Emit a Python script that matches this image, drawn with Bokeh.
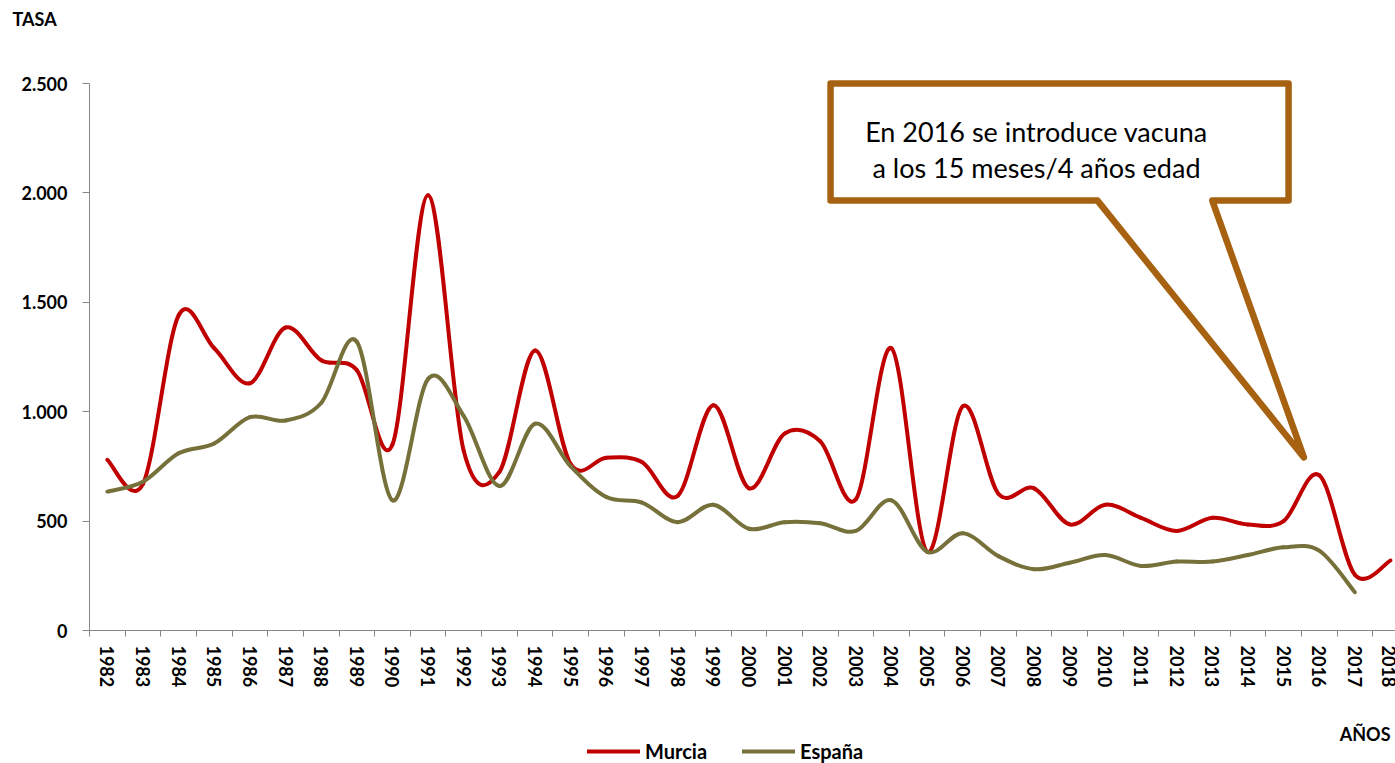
import numpy as np
from bokeh.plotting import figure
from bokeh.layouts import column
from bokeh.models import (ColumnDataSource, FixedTicker, Label, Legend, LegendItem,
                          PolyAnnotation, Range1d, Title)
from bokeh.embed import file_html
from bokeh.resources import INLINE

# ---------------- data ----------------
years = list(range(1982, 2019))
murcia = [780, 670, 1440, 1290, 1130, 1385, 1235, 1190, 850, 1990, 820, 725, 1280, 760,
          790, 770, 615, 1030, 650, 900, 865, 600, 1290, 360, 1025, 625, 650, 485, 575,
          515, 455, 515, 485, 500, 710, 255, 320]
espana = [635, 680, 810, 855, 975, 960, 1040, 1320, 595, 1150, 980, 660, 945, 750,
          610, 585, 495, 575, 465, 495, 490, 455, 595, 360, 445, 340, 280, 310, 345,
          295, 315, 315, 345, 380, 365, 175, None]
series_names = ["Murcia", "España"]
series_colors = ["#C00000", "#76703A"]
y_ticks = [0, 500, 1000, 1500, 2000, 2500]
y_tick_labels = ["0", "500", "1.000", "1.500", "2.000", "2.500"]
callout_lines = ["En 2016 se introduce vacuna", "a los 15 meses/4 años edad"]
y_title = "TASA"
x_title = "AÑOS"

# callout shape, in (year, value) coordinates
callout_xs = [2002.29, 2015.14, 2015.14, 2013.0, 2015.57, 2009.78, 2002.29]
callout_ys = [2500, 2500, 1965, 1965, 791, 1965, 1965]

FONT = "Lato"
AXIS_COLOR = "#868686"
W = 1395
H_TOP, H_MAIN, H_BOT = 40, 660, 63
LEFT = 89


def bezier_segments(xs, ys):
    pts = [(x, y) for x, y in zip(xs, ys) if y is not None]
    n = len(pts)
    out = dict(x0=[], y0=[], x1=[], y1=[], cx0=[], cy0=[], cx1=[], cy1=[])
    for i in range(n - 1):
        p0 = pts[max(i - 1, 0)]
        p1 = pts[i]
        p2 = pts[i + 1]
        p3 = pts[min(i + 2, n - 1)]
        out["x0"].append(p1[0]); out["y0"].append(p1[1])
        out["x1"].append(p2[0]); out["y1"].append(p2[1])
        out["cx0"].append(p1[0] + (p2[0] - p0[0]) / 6.0)
        out["cy0"].append(p1[1] + (p2[1] - p0[1]) / 6.0)
        out["cx1"].append(p2[0] - (p3[0] - p1[0]) / 6.0)
        out["cy1"].append(p2[1] - (p3[1] - p1[1]) / 6.0)
    return out


def bare_figure(height, x_range, y_range):
    f = figure(width=W, height=height, output_backend="svg", toolbar_location=None,
               x_axis_location=None, y_axis_location=None, min_border=0,
               x_range=x_range, y_range=y_range)
    f.outline_line_color = None
    f.xgrid.visible = False
    f.ygrid.visible = False
    f.border_fill_color = "white"
    f.background_fill_color = "white"
    return f


# ---------------- top strip: y title ----------------
p_top = bare_figure(H_TOP, Range1d(0, 1), Range1d(0, 1))
p_top.add_layout(Title(text=y_title, align="left", offset=12 - LEFT, standoff=14,
                       vertical_align="top", text_font=FONT, text_font_style="bold",
                       text_font_size="18px", text_color="black"), "above")

# ---------------- main chart ----------------
p = figure(width=W, height=H_MAIN, output_backend="svg", toolbar_location=None,
           x_range=Range1d(1981.5, 2018.14), y_range=Range1d(0, 2546),
           min_border_left=LEFT, min_border_right=0, min_border_top=33,
           min_border_bottom=70)
p.outline_line_color = None
p.xgrid.visible = False
p.ygrid.visible = False
p.background_fill_color = "white"
p.border_fill_color = "white"

xa = p.xaxis[0]
xa.ticker = FixedTicker(ticks=years, minor_ticks=[y - 0.5 for y in years] + [years[-1] + 0.5])
xa.major_label_overrides = {y: str(y) for y in years}
xa.major_label_orientation = "vertical"
xa.major_tick_line_color = None
xa.major_tick_out = 0
xa.major_tick_in = 0
xa.minor_tick_out = 6
xa.minor_tick_in = 0
xa.minor_tick_line_color = AXIS_COLOR
xa.axis_line_color = AXIS_COLOR
xa.major_label_standoff = 9
xa.major_label_text_font = FONT
xa.major_label_text_font_style = "bold"
xa.major_label_text_font_size = "18px"
xa.major_label_text_color = "black"

ya = p.yaxis[0]
ya.ticker = FixedTicker(ticks=y_ticks)
ya.bounds = (0, 2500)
ya.major_label_overrides = {t: l for t, l in zip(y_ticks, y_tick_labels)}
ya.minor_tick_line_color = None
ya.major_tick_out = 7
ya.major_tick_in = 0
ya.major_tick_line_color = AXIS_COLOR
ya.axis_line_color = AXIS_COLOR
ya.major_label_standoff = 15
ya.major_label_text_font = FONT
ya.major_label_text_font_style = "bold"
ya.major_label_text_font_size = "18px"
ya.major_label_text_color = "black"

for vals, color in zip([murcia, espana], series_colors):
    src = ColumnDataSource(bezier_segments(years, vals))
    p.bezier(x0="x0", y0="y0", x1="x1", y1="y1", cx0="cx0", cy0="cy0",
             cx1="cx1", cy1="cy1", source=src, line_color=color, line_width=4,
             line_cap="round")

callout = PolyAnnotation(xs=callout_xs, ys=callout_ys, fill_color="white", fill_alpha=1,
                         line_color="#A66210", line_alpha=1, line_width=6.5,
                         line_join="round")
p.add_layout(callout)

for i, txt in enumerate(callout_lines):
    p.add_layout(Label(x=947, y=499 - 36 * i, x_units="screen", y_units="screen",
                       text=txt, text_font=FONT, text_font_size="27px",
                       text_align="center", text_baseline="middle", text_color="black"))

# ---------------- bottom strip: x title + legend ----------------
p_bot = bare_figure(H_BOT, Range1d(1981.5, 2018.14), Range1d(-2, -1))
leg_renderers = []
for vals, color in zip([murcia, espana], series_colors):
    src = ColumnDataSource(bezier_segments(years, vals))
    r = p_bot.bezier(x0="x0", y0="y0", x1="x1", y1="y1", cx0="cx0", cy0="cy0",
                     cx1="cx1", cy1="cy1", source=src, line_color=color, line_width=4,
                     line_cap="round")
    leg_renderers.append(r)

p_bot.add_layout(Label(x=1390 - LEFT, y=H_BOT - 33, x_units="screen", y_units="screen",
                       text=x_title, text_font=FONT, text_font_style="bold",
                       text_font_size="18px", text_align="right",
                       text_baseline="middle", text_color="black"))

legend = Legend(items=[LegendItem(label=n, renderers=[r])
                       for n, r in zip(series_names, leg_renderers)],
                location=(587 - LEFT, 0), orientation="horizontal", glyph_width=53,
                glyph_height=20, label_standoff=5, spacing=35, padding=0, margin=0,
                border_line_color=None, background_fill_alpha=0,
                label_text_font=FONT, label_text_font_style="bold",
                label_text_font_size="20px", label_text_color="black")
p_bot.add_layout(legend)

layout = column(p_top, p, p_bot, spacing=0)
open("out.html", "w").write(file_html(layout, INLINE))
